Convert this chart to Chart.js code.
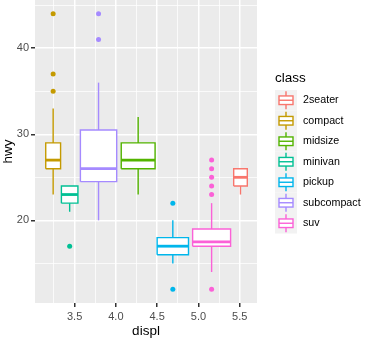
<!DOCTYPE html>
<html>
<head>
<meta charset="utf-8">
<script src="https://cdn.jsdelivr.net/npm/chart.js@4.4.1/dist/chart.umd.min.js"></script>
<style>
  html, body { margin: 0; padding: 0; background: #fff; }
</style>
</head>
<body>
<canvas id="boxChart" width="373" height="340"></canvas>
<script>
// hwy by class, boxes placed at a displ position
const classes = ["2seater", "compact", "midsize", "minivan", "pickup", "subcompact", "suv"];
const colores = ["#F8766D", "#C49A00", "#53B400", "#00C094", "#00B6EB", "#A58AFF", "#FB61D7"];

const boxDispl = [5.51, 3.24, 4.27, 3.44, 4.69, 3.79, 5.16];
const boxSpan  = [0.165, 0.18, 0.41, 0.20, 0.38, 0.44, 0.46];

const lower  = [23, 23, 23, 21, 15, 20, 14];
const q1     = [24, 26, 26, 22, 16, 24.5, 17];
const median = [25, 27, 27, 23, 17, 26, 17.5];
const q3     = [26, 29, 29, 24, 18, 30.5, 19];
const upper  = [26, 33, 32, 24, 20, 36, 22];
const outliers = [[], [35, 37, 44], [], [17], [12, 22], [41, 44], [12, 23, 24, 25, 26, 27]];

const xTicks = [3.5, 4.0, 4.5, 5.0, 5.5];
const xMinor = [3.25, 3.75, 4.25, 4.75, 5.25];
const yTicks = [20, 30, 40];
const yMinor = [15, 25, 35, 45];

const fonte = "'Liberation Sans', Arial, sans-serif";

const datasets = [];
classes.forEach((c, i) => {
  const x0 = boxDispl[i] - boxSpan[i] / 2;
  const x1 = boxDispl[i] + boxSpan[i] / 2;
  const base = { showLine: true, borderColor: colores[i], pointRadius: 0, fill: false };

  datasets.push({ ...base, label: c + " whisker", order: 3, borderWidth: 1.4,
    data: [{ x: boxDispl[i], y: lower[i] }, { x: boxDispl[i], y: upper[i] }] });

  datasets.push({ ...base, label: c, order: 2, borderWidth: 1.4, fill: "shape", backgroundColor: "#fff",
    data: [{ x: x0, y: q1[i] }, { x: x1, y: q1[i] }, { x: x1, y: q3[i] }, { x: x0, y: q3[i] }, { x: x0, y: q1[i] }] });

  datasets.push({ ...base, label: c + " median", order: 1, borderWidth: 2.8,
    data: [{ x: x0, y: median[i] }, { x: x1, y: median[i] }] });

  datasets.push({ label: c + " outliers", order: 0, showLine: false,
    pointRadius: 2.5, pointBorderWidth: 0, pointBackgroundColor: colores[i], borderColor: colores[i],
    data: outliers[i].map(v => ({ x: boxDispl[i], y: v })) });
});

const fundoPainel = {
  id: "fundoPainel",
  beforeDraw(chart) {
    const { ctx, chartArea: a } = chart;
    ctx.save();
    ctx.fillStyle = "#fff";
    ctx.fillRect(0, 0, chart.width, chart.height);
    ctx.fillStyle = "#EBEBEB";
    ctx.fillRect(a.left, a.top, a.right - a.left, a.bottom - a.top);
    ctx.restore();
  }
};

const legendaClasse = {
  id: "legendaClasse",
  afterDraw(chart) {
    const ctx = chart.ctx;
    ctx.save();
    ctx.fillStyle = "#000";
    ctx.font = "13.5px " + fonte;
    ctx.textBaseline = "alphabetic";
    ctx.textAlign = "left";
    ctx.fillText("class", 275, 82);

    const left = 275, w = 22, h = 20.5, top = 90;
    classes.forEach((c, i) => {
      const y = top + i * h;
      const cy = y + h / 2;
      const cx = left + w / 2;
      ctx.fillStyle = "#F2F2F2";
      ctx.fillRect(left, y, w, h);
      ctx.strokeStyle = colores[i];
      ctx.lineWidth = 1.4;
      ctx.beginPath();
      ctx.moveTo(cx, cy - 9); ctx.lineTo(cx, cy - 4.3);
      ctx.moveTo(cx, cy + 4.3); ctx.lineTo(cx, cy + 9);
      ctx.stroke();
      ctx.fillStyle = "#fff";
      ctx.fillRect(left + 4, cy - 4.3, w - 8, 8.6);
      ctx.strokeRect(left + 4, cy - 4.3, w - 8, 8.6);
      ctx.beginPath();
      ctx.moveTo(left + 4, cy); ctx.lineTo(left + w - 4, cy);
      ctx.stroke();
      ctx.fillStyle = "#000";
      ctx.font = "10.7px " + fonte;
      ctx.textBaseline = "middle";
      ctx.fillText(c, 303, cy);
    });
    ctx.restore();
  }
};

new Chart(document.getElementById("boxChart"), {
  type: "scatter",
  data: { datasets },
  plugins: [fundoPainel, legendaClasse],
  options: {
    responsive: false,
    animation: false,
    layout: { autoPadding: false, padding: { top: 0, left: 0, bottom: 0, right: 116 } },
    plugins: { legend: { display: false }, tooltip: { enabled: false } },
    scales: {
      x: {
        type: "linear",
        min: 3.02,
        max: 5.71,
        afterBuildTicks: s => { s.ticks = [...xTicks, ...xMinor].sort((a, b) => a - b).map(v => ({ value: v })); },
        afterFit: s => { s.height = 37; s.paddingLeft = 0; s.paddingRight = 0; },
        border: { display: false },
        grid: {
          color: "#fff",
          lineWidth: c => xTicks.includes(c.tick.value) ? 1.5 : 0.75,
          tickColor: c => xTicks.includes(c.tick.value) ? "#333" : "rgba(0,0,0,0)",
          tickLength: 4
        },
        ticks: {
          autoSkip: false,
          maxRotation: 0,
          padding: 3,
          color: "#4D4D4D",
          font: { family: fonte, size: 11 },
          callback: v => xTicks.includes(v) ? v.toFixed(1) : ""
        },
        title: { display: true, text: "displ", color: "#000", font: { family: fonte, size: 13.5 }, padding: { top: 0, bottom: 1 } }
      },
      y: {
        type: "linear",
        min: 10.4,
        max: 45.6,
        afterBuildTicks: s => { s.ticks = [...yTicks, ...yMinor].sort((a, b) => a - b).map(v => ({ value: v })); },
        afterFit: s => { s.width = 35; s.paddingTop = 0; s.paddingBottom = 0; },
        border: { display: false },
        grid: {
          color: "#fff",
          lineWidth: c => yTicks.includes(c.tick.value) ? 1.5 : 0.75,
          tickColor: c => yTicks.includes(c.tick.value) ? "#333" : "rgba(0,0,0,0)",
          tickLength: 4
        },
        ticks: {
          autoSkip: false,
          padding: 2,
          color: "#4D4D4D",
          font: { family: fonte, size: 11 },
          callback: v => yTicks.includes(v) ? String(v) : ""
        },
        title: { display: true, text: "hwy", color: "#000", font: { family: fonte, size: 13.5 }, padding: 0 }
      }
    }
  }
});
</script>
</body>
</html>
